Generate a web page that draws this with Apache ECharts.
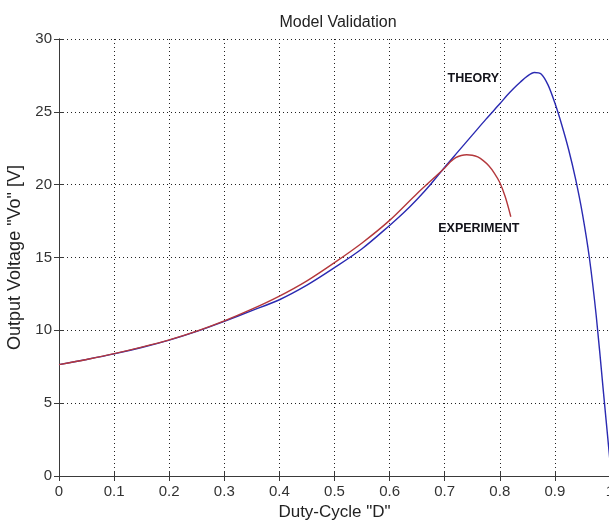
<!DOCTYPE html>
<html>
<head>
<meta charset="utf-8">
<script src="https://cdn.jsdelivr.net/npm/echarts@6/dist/echarts.min.js"></script>
<style>html,body{margin:0;padding:0;background:#fff}#c{width:609px;height:521px}</style>
</head>
<body>
<div id="c"></div>
<script>
// Duty cycle D and output voltage Vo [V]
var theoryD = [0, 0.05, 0.1, 0.15, 0.2, 0.25, 0.3, 0.35, 0.4, 0.45, 0.5, 0.55, 0.6, 0.625, 0.65, 0.675, 0.7, 0.725, 0.75, 0.775, 0.8, 0.8125, 0.825, 0.8375, 0.85, 0.8625, 0.875, 0.8875, 0.9, 0.9125, 0.925, 0.9375, 0.95, 0.9625, 0.975, 0.9875, 1.0];
var theoryV = [7.65, 8.0, 8.38, 8.82, 9.33, 9.93, 10.62, 11.35, 12.1, 13.1, 14.3, 15.6, 17.2, 18.05, 19.0, 20.05, 21.2, 22.3, 23.4, 24.5, 25.55, 26.1, 26.6, 27.05, 27.45, 27.7, 27.6, 26.85, 25.6, 24.1, 22.4, 20.4, 18.0, 15.0, 11.0, 6.0, 1.0];
var expD = [0, 0.05, 0.1, 0.15, 0.2, 0.25, 0.3, 0.35, 0.4, 0.45, 0.5, 0.55, 0.6, 0.65, 0.7, 0.71, 0.72, 0.73, 0.74, 0.75, 0.76, 0.77, 0.78, 0.79, 0.8, 0.81, 0.82];
var expV = [7.65, 8.0, 8.4, 8.85, 9.35, 9.95, 10.65, 11.45, 12.35, 13.4, 14.65, 16.0, 17.55, 19.4, 21.15, 21.55, 21.85, 22.0, 22.05, 22.02, 21.9, 21.65, 21.3, 20.8, 20.15, 19.15, 17.8];
var xTicks = ['0', '0.1', '0.2', '0.3', '0.4', '0.5', '0.6', '0.7', '0.8', '0.9', '1'];
var yTicks = ['0', '5', '10', '15', '20', '25', '30'];
var annotations = [
  {name: 'THEORY', d: 0.752, v: 27.3},
  {name: 'EXPERIMENT', d: 0.762, v: 16.96}
];

function pairs(xs, ys) { return xs.map(function (x, i) { return [x, ys[i]]; }); }

var FONT = 'Liberation Sans';
var chart = echarts.init(document.getElementById('c'), null, {renderer: 'canvas'});
var axisCommon = {
  axisLine: {show: true, lineStyle: {color: '#3a3a3a', width: 1}},
  axisTick: {show: true, inside: true, length: 5, lineStyle: {color: '#3a3a3a'}},
};
chart.setOption({
  animation: false,
  backgroundColor: '#ffffff',
  title: {
    text: 'Model Validation', left: 333, top: 10, textAlign: 'center',
    textStyle: {fontFamily: FONT, fontSize: 16, fontWeight: 'normal', color: '#222'}
  },
  grid: {left: 59, right: -1, top: 39, bottom: 45, containLabel: false, outerBoundsMode: 'none'},
  xAxis: [
    Object.assign({
      type: 'value', min: 0, max: 1, interval: 0.1, position: 'bottom',
      name: 'Duty-Cycle "D"', nameLocation: 'middle', nameGap: 24,
      nameTextStyle: {fontFamily: FONT, fontSize: 17, color: '#222'},
      axisLabel: {
        margin: 8, fontFamily: FONT, fontSize: 15, color: '#333',
        formatter: function (v) { return xTicks[Math.round(v * 10)]; }
      },
      splitLine: {show: true, lineStyle: {type: [1, 3], color: '#222', width: 1}}
    }, axisCommon),
    Object.assign({
      type: 'value', min: 0, max: 1, interval: 0.1, position: 'top',
      axisLabel: {show: false}, splitLine: {show: false}
    }, axisCommon)
  ],
  yAxis: [
    Object.assign({
      type: 'value', min: 0, max: 30, interval: 5, position: 'left',
      name: 'Output Voltage "Vo" [V]', nameLocation: 'middle', nameGap: 29,
      nameTextStyle: {fontFamily: FONT, fontSize: 18, color: '#222'},
      axisLabel: {
        margin: 7, fontFamily: FONT, fontSize: 15, color: '#333',
        formatter: function (v) { return yTicks[Math.round(v / 5)]; }
      },
      splitLine: {show: true, lineStyle: {type: [1, 3], color: '#222', width: 1}}
    }, axisCommon),
    Object.assign({
      type: 'value', min: 0, max: 30, interval: 5, position: 'right',
      axisLabel: {show: false}, splitLine: {show: false}
    }, axisCommon)
  ],
  series: [
    {
      name: 'Theory', type: 'line', data: pairs(theoryD, theoryV), smooth: 0.3,
      showSymbol: false, symbol: 'none', lineStyle: {color: '#2a2ab2', width: 1.4}, z: 3
    },
    {
      name: 'Experiment', type: 'line', data: pairs(expD, expV), smooth: 0.3,
      showSymbol: false, symbol: 'none', lineStyle: {color: '#b4383c', width: 1.4}, z: 4
    }
  ]
});
chart.setOption({
  graphic: annotations.map(function (a) {
    var p = chart.convertToPixel({gridIndex: 0}, [a.d, a.v]);
    return {
      type: 'text', x: p[0], y: p[1], z: 10,
      style: {
        text: a.name, align: 'center', verticalAlign: 'middle',
        font: 'bold 12.5px "' + FONT + '"', fill: '#111118'
      }
    };
  })
});
</script>
</body>
</html>
